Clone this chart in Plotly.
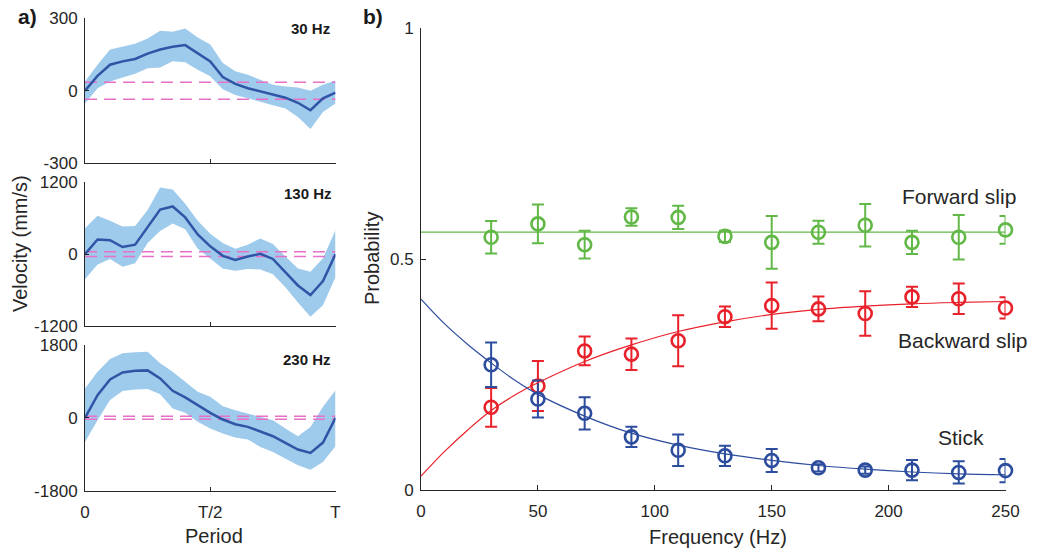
import plotly.graph_objects as go

# ---------------- data: panel a) ----------------
period = [0.0, 0.05, 0.1, 0.15, 0.2, 0.25, 0.3, 0.35, 0.4, 0.45, 0.5,
          0.55, 0.6, 0.65, 0.7, 0.75, 0.8, 0.85, 0.9, 0.95, 1.0]

v30_mean = [0, 61, 107, 121, 131, 153, 170, 181, 188, 153, 121, 56, 28, 10, -4, -18, -29, -50, -81, -32, -8]
v30_up = [38, 107, 170, 181, 194, 215, 247, 243, 257, 219, 191, 114, 80, 66, 45, 24, 17, 13, 0, 24, 42]
v30_lo = [-53, 10, 38, 54, 70, 93, 96, 121, 117, 86, 59, 6, -18, -32, -46, -60, -74, -109, -158, -88, -53]

v130_mean = [0, 245, 233, 119, 159, 455, 745, 796, 614, 330, 131, -28, -97, -40, 6, -80, -296, -523, -682, -449, 0]
v130_up = [432, 643, 557, 461, 472, 739, 1115, 1080, 842, 557, 341, 188, 91, 159, 262, 171, -40, -239, -296, -68, 398]
v130_lo = [-421, -171, -80, -210, -154, 188, 387, 512, 415, 91, -80, -239, -279, -250, -256, -336, -552, -808, -1046, -853, -381]

v230_mean = [0, 561, 950, 1123, 1164, 1173, 974, 669, 504, 314, 124, -41, -157, -223, -347, -454, -619, -784, -867, -611, 0]
v230_up = [727, 1139, 1453, 1594, 1618, 1635, 1346, 1139, 892, 644, 520, 289, 190, 107, 41, -58, -264, -454, -223, 272, 685]
v230_lo = [-595, -58, 438, 661, 702, 710, 586, 231, 124, -99, -264, -388, -487, -537, -718, -842, -1007, -1173, -1280, -1090, -702]

thresholds = [35, 40, 37]
panel_labels = ["30 Hz", "130 Hz", "230 Hz"]
panel_ranges = [300, 1200, 1800]
period_ticks = [0, 0.5, 1]
period_ticktext = ["0", "T/2", "T"]

# ---------------- data: panel b) ----------------
freq = [30, 50, 70, 90, 110, 130, 150, 170, 190, 210, 230, 250]
fwd = [0.547, 0.576, 0.531, 0.591, 0.590, 0.549, 0.536, 0.558, 0.573, 0.536, 0.547, 0.563]
fwd_err = [0.035, 0.042, 0.030, 0.019, 0.025, 0.012, 0.057, 0.025, 0.046, 0.025, 0.048, 0.030]
bwd = [0.179, 0.225, 0.301, 0.294, 0.323, 0.375, 0.399, 0.392, 0.382, 0.418, 0.414, 0.394]
bwd_err = [0.042, 0.054, 0.031, 0.034, 0.055, 0.022, 0.050, 0.027, 0.048, 0.022, 0.033, 0.023]
stick = [0.271, 0.197, 0.166, 0.115, 0.086, 0.074, 0.064, 0.048, 0.043, 0.043, 0.038, 0.042]
stick_err = [0.048, 0.040, 0.035, 0.022, 0.034, 0.022, 0.025, 0.008, 0.008, 0.022, 0.024, 0.025]

fit_x = [0, 10, 20, 30, 40, 50, 70, 90, 110, 130, 150, 170, 190, 210, 230, 250]
fit_stick = [0.413, 0.36, 0.315, 0.275, 0.238, 0.207, 0.16, 0.123, 0.097, 0.078, 0.064, 0.053, 0.045, 0.039, 0.035, 0.033]
fit_bwd = [0.03, 0.083, 0.13, 0.172, 0.205, 0.232, 0.278, 0.314, 0.343, 0.364, 0.380, 0.391, 0.398, 0.403, 0.406, 0.408]
fit_fwd_x = [0, 250]
fit_fwd = [0.558, 0.558]

freq_ticks = [0, 50, 100, 150, 200, 250]
prob_ticks = [0, 0.5, 1]
prob_ticktext = ["0", "0.5", "1"]

# ---------------- styling ----------------
W, H = 1038, 552
FONT = "Liberation Sans, Arial, Helvetica, sans-serif"
AX = "#262626"
BAND = "#9ECAEC"
MEAN = "#2F56A6"
PINK = "#E870C6"
GREEN = "#62B846"
RED = "#E8212A"
BLUE = "#2C4C9E"


def px_x(p):
    return p / W


def px_y(p):
    return 1 - p / H


fig = go.Figure()

left_dom_x = [px_x(85), px_x(335.5)]
left_dom_y = [[px_y(163.3), px_y(18)], [px_y(326), px_y(182.3)], [px_y(490.7), px_y(345)]]
series = [(v30_mean, v30_up, v30_lo), (v130_mean, v130_up, v130_lo), (v230_mean, v230_up, v230_lo)]

for i, (mean, up, lo) in enumerate(series):
    k = "" if i == 0 else str(i + 1)
    xa, ya = "x" + k, "y" + k
    fig.add_trace(go.Scatter(x=period + period[::-1], y=up + lo[::-1], fill="toself",
                             fillcolor=BAND, line=dict(width=0), mode="lines",
                             hoverinfo="skip", showlegend=False, xaxis=xa, yaxis=ya))
    for s in (1, -1):
        fig.add_trace(go.Scatter(x=[0, 1], y=[s * thresholds[i]] * 2, mode="lines",
                                 line=dict(color=PINK, width=1.5, dash="12px,7px"),
                                 showlegend=False, xaxis=xa, yaxis=ya))
    fig.add_trace(go.Scatter(x=period, y=mean, mode="lines",
                             line=dict(color=MEAN, width=2.5), showlegend=False,
                             xaxis=xa, yaxis=ya))
    r = panel_ranges[i]
    axis_common = dict(showline=True, linecolor=AX, linewidth=1, ticks="inside",
                       ticklen=4, tickcolor=AX, showgrid=False, zeroline=False,
                       automargin=False,
                       tickfont=dict(family=FONT, size=17, color=AX))
    fig.layout["xaxis" + k] = dict(domain=left_dom_x, range=[0, 1], anchor=ya,
                                   tickvals=period_ticks, ticktext=period_ticktext,
                                   showticklabels=(i == 2), ticklabelstandoff=6,
                                   **axis_common)
    fig.layout["yaxis" + k] = dict(domain=left_dom_y[i], range=[-r, r], anchor=xa,
                                   tickvals=[-r, 0, r],
                                   ticktext=["-%d" % r, "0", "%d" % r],
                                   ticklabelstandoff=3, **axis_common)

# right panel
for yv, err, col in ((fwd, fwd_err, GREEN), (bwd, bwd_err, RED), (stick, stick_err, BLUE)):
    fig.add_trace(go.Scatter(x=freq, y=yv, mode="markers", cliponaxis=False,
                             marker=dict(symbol="circle-open", size=13, color=col,
                                         line=dict(width=2.6, color=col)),
                             error_y=dict(type="data", array=err, visible=True,
                                          color=col, thickness=2, width=6),
                             showlegend=False, xaxis="x4", yaxis="y4"))

for fx, fy, col in ((fit_fwd_x, fit_fwd, GREEN), (fit_x, fit_bwd, RED), (fit_x, fit_stick, BLUE)):
    fig.add_trace(go.Scatter(x=fx, y=fy, mode="lines", line=dict(color=col, width=1.2, shape="spline"),
                             showlegend=False, xaxis="x4", yaxis="y4"))

right_common = dict(showline=True, linecolor=AX, linewidth=1, ticks="inside", ticklen=5,
                    tickcolor=AX, showgrid=False, zeroline=False, automargin=False,
                    tickfont=dict(family=FONT, size=17, color=AX))
fig.layout["xaxis4"] = dict(domain=[px_x(421), px_x(1005.5)], range=[0, 250], anchor="y4",
                            tickvals=freq_ticks, ticklabelstandoff=6, **right_common)
fig.layout["yaxis4"] = dict(domain=[px_y(490), px_y(28)], range=[0, 1], anchor="x4",
                            tickvals=prob_ticks, ticktext=prob_ticktext,
                            ticklabelstandoff=3, **right_common)

ann = []


def add_text(text, x, y, size, bold=False, angle=0, xanchor="center"):
    ann.append(dict(text=("<b>%s</b>" % text) if bold else text, x=px_x(x), y=px_y(y),
                    xref="paper", yref="paper", showarrow=False, textangle=angle,
                    xanchor=xanchor, yanchor="middle",
                    font=dict(family=FONT, size=size, color=AX if not bold else "#1a1a1a")))


add_text("a)", 27, 16, 21, bold=True)
add_text("b)", 373, 16, 21, bold=True)
add_text(panel_labels[0], 310.5, 28, 15, bold=True)
add_text(panel_labels[1], 307.5, 193, 15, bold=True)
add_text(panel_labels[2], 307, 359, 15, bold=True)
add_text("Velocity (mm/s)", 20, 244, 20, angle=-90)
add_text("Period", 213.5, 536, 20)
add_text("Frequency (Hz)", 718, 537, 20)
add_text("Probability", 372, 259, 20, angle=-90)
add_text("Forward slip", 959, 197, 21)
add_text("Backward slip", 963, 340, 21)
add_text("Stick", 961, 437, 21)

fig.update_layout(width=W, height=H, margin=dict(l=0, r=0, t=0, b=0, autoexpand=False),
                  paper_bgcolor="white", plot_bgcolor="white", annotations=ann,
                  font=dict(family=FONT, color=AX), hovermode=False)

# remove the page's default body margin so the figure sits at the window's top-left corner
fig.write_html("out.html", config={"displayModeBar": False},
               post_script="document.body.style.margin='0';")
